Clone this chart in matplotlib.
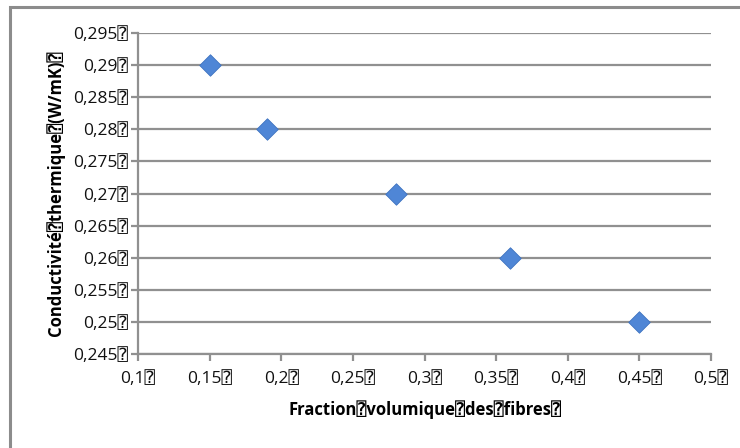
import matplotlib
matplotlib.use('Agg')
import matplotlib.pyplot as plt
from matplotlib.patches import Rectangle

plt.rcParams['font.family'] = ['Open Sans', 'DejaVu Sans', 'DejaVu Sans Mono']

# données
fraction = [0.15, 0.19, 0.28, 0.36, 0.45]
conductivite = [0.29, 0.28, 0.27, 0.26, 0.25]

x_ticks = [0.1, 0.15, 0.2, 0.25, 0.3, 0.35, 0.4, 0.45, 0.5]
x_labels = ['0,1⍰', '0,15⍰', '0,2⍰', '0,25⍰', '0,3⍰', '0,35⍰', '0,4⍰', '0,45⍰', '0,5⍰']
y_ticks = [0.245, 0.25, 0.255, 0.26, 0.265, 0.27, 0.275, 0.28, 0.285, 0.29, 0.295]
y_labels = ['0,245⍰', '0,25⍰', '0,255⍰', '0,26⍰', '0,265⍰', '0,27⍰', '0,275⍰',
            '0,28⍰', '0,285⍰', '0,29⍰', '0,295⍰']

fig = plt.figure(figsize=(7.4, 4.48), dpi=100)
ax = fig.add_axes([0.1865, 0.2098, 0.7743, 0.7165])

# cadre autour du graphique
fig.patches.append(Rectangle((10 / 740, -0.05), 1.1, 1 - 7 / 448 + 0.05,
                             transform=fig.transFigure, fill=False,
                             edgecolor='#8c8c8c', linewidth=2.2))

ax.scatter(fraction, conductivite, marker='D', s=120, color='#4F86D6',
           edgecolor='#3f73c0', linewidth=0.6, zorder=3)

ax.set_xlim(0.1, 0.5)
ax.set_ylim(0.245, 0.295)
ax.set_xticks(x_ticks)
ax.set_xticklabels(x_labels)
ax.set_yticks(y_ticks)
ax.set_yticklabels(y_labels)
ax.grid(axis='y', color='#909090', linewidth=1.6)
ax.set_axisbelow(True)

for s in ['top', 'right']:
    ax.spines[s].set_visible(False)
for s in ['left', 'bottom']:
    ax.spines[s].set_color('#909090')
    ax.spines[s].set_linewidth(1.6)

ax.tick_params(axis='both', colors='#909090', width=1.6, length=5,
               labelcolor='#111111', labelsize=12.5)
ax.tick_params(axis='x', pad=7)
ax.tick_params(axis='y', pad=2)

ax.set_xlabel('Fraction⍰volumique⍰des⍰fibres⍰', fontsize=12,
              fontweight='bold', labelpad=10)
ax.set_ylabel('Conductivité⍰thermique⍰(W/mK)⍰', fontsize=12,
              fontweight='bold', labelpad=6)

fig.savefig('out.png', dpi=100)
